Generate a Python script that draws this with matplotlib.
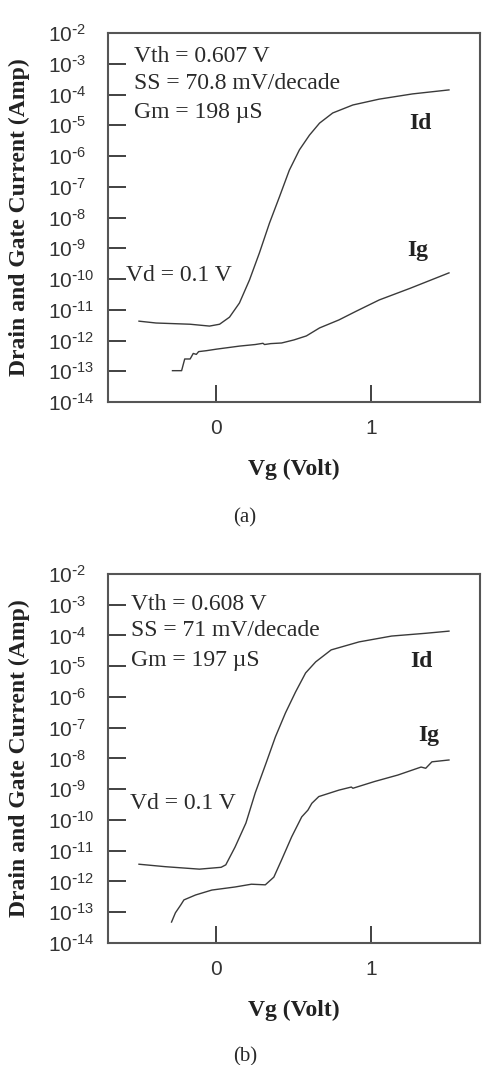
import matplotlib
matplotlib.use("Agg")
import matplotlib.pyplot as plt
import numpy as np
from matplotlib.ticker import LogLocator, FixedLocator, FuncFormatter

plt.rcParams['font.family'] = ['Liberation Serif', 'DejaVu Serif']
plt.rcParams['mathtext.default'] = 'regular'

# ---- panel (a) data: Vg (V), log10 current (A)
vg_id_a = [-0.50, -0.39, -0.17, -0.045, 0.02, 0.084, 0.148, 0.213, 0.277, 0.342, 0.406, 0.47,
           0.535, 0.60, 0.665, 0.75, 0.88, 1.05, 1.265, 1.50]
log_id_a = [-11.37, -11.43, -11.47, -11.53, -11.47, -11.24, -10.78, -10.03, -9.15, -8.18, -7.33, -6.46,
            -5.80, -5.32, -4.93, -4.60, -4.34, -4.15, -3.98, -3.85]
vg_ig_a = [-0.284, -0.225, -0.205, -0.17, -0.15, -0.13, -0.115, -0.065, 0.0, 0.15, 0.25, 0.30,
           0.31, 0.35, 0.42, 0.50, 0.58, 0.665, 0.79, 0.90, 1.05, 1.25, 1.50]
log_ig_a = [-12.98, -12.98, -12.60, -12.60, -12.42, -12.45, -12.36, -12.33, -12.28, -12.18, -12.13, -12.09,
            -12.13, -12.10, -12.08, -11.98, -11.85, -11.59, -11.33, -11.05, -10.68, -10.30, -9.80]

# ---- panel (b) data
vg_id_b = [-0.50, -0.33, -0.11, 0.03, 0.06, 0.12, 0.19, 0.25, 0.32, 0.38, 0.445, 0.51,
           0.575, 0.64, 0.74, 0.92, 1.13, 1.35, 1.50]
log_id_b = [-11.44, -11.52, -11.60, -11.54, -11.46, -10.88, -10.10, -9.12, -8.15, -7.30, -6.52, -5.84,
            -5.22, -4.86, -4.47, -4.21, -4.02, -3.93, -3.86]
vg_ig_b = [-0.29, -0.265, -0.23, -0.21, -0.135, -0.03, 0.12, 0.225, 0.315, 0.37, 0.42, 0.485,
           0.55, 0.59, 0.615, 0.66, 0.79, 0.87, 0.88, 1.02, 1.17, 1.32, 1.35, 1.39, 1.50]
log_ig_b = [-13.32, -13.02, -12.76, -12.60, -12.44, -12.28, -12.18, -12.09, -12.11, -11.86, -11.30, -10.55,
            -9.90, -9.68, -9.46, -9.24, -9.03, -8.93, -8.97, -8.75, -8.54, -8.28, -8.32, -8.11, -8.05]

panels = [
    dict(vg_id=vg_id_a, log_id=log_id_a, vg_ig=vg_ig_a, log_ig=log_ig_a,
         vth="Vth = 0.607 V", ss="SS = 70.8 mV/decade", gm="Gm = 198 \u00b5S",
         rect=[0.2222, 0.6225, 0.7654, 0.3465], tag="(a)", tag_y=0.5136,
         txt_x=-0.53, txt_y=[-2.75, -3.63, -4.60],
         id_pos=(1.245, -4.93), ig_pos=(1.23, -9.06), vd_pos=(-0.587, -9.87)),
    dict(vg_id=vg_id_b, log_id=log_id_b, vg_ig=vg_ig_b, log_ig=log_ig_b,
         vth="Vth = 0.608 V", ss="SS = 71 mV/decade", gm="Gm = 197 \u00b5S",
         rect=[0.2222, 0.1146, 0.7654, 0.3465], tag="(b)", tag_y=0.0075,
         txt_x=-0.55, txt_y=[-2.98, -3.85, -4.83],
         id_pos=(1.25, -4.86), ig_pos=(1.30, -7.24), vd_pos=(-0.56, -9.45)),
]


def exp_label(v, pos):
    e = int(round(np.log10(v)))
    if e < 0:
        return r'$10^{\text{-}%d}$' % (-e)
    return r'$10^{%d}$' % e


fig = plt.figure(figsize=(4.86, 10.65), dpi=100)

for p in panels:
    ax = fig.add_axes(p['rect'])
    ax.semilogy(p['vg_id'], 10.0 ** np.array(p['log_id']), color='#3a3a3a', lw=1.0)
    ax.semilogy(p['vg_ig'], 10.0 ** np.array(p['log_ig']), color='#3a3a3a', lw=1.0)
    ax.set_xlim(-0.7, 1.7)
    ax.set_ylim(1e-14, 1e-2)

    ax.yaxis.set_major_locator(LogLocator(base=10, numticks=20))
    ax.yaxis.set_major_formatter(FuncFormatter(exp_label))
    ax.yaxis.set_minor_locator(FixedLocator([]))
    ax.xaxis.set_major_locator(FixedLocator([0, 1]))
    ax.tick_params(axis='y', direction='in', length=13, width=1.3, pad=43, labelsize=15,
                   labelfontfamily='Liberation Sans', colors='#333333')
    ax.tick_params(axis='x', direction='in', length=12, width=1.3, pad=12, labelsize=15,
                   labelfontfamily='Liberation Sans', colors='#333333')
    for lab in ax.get_yticklabels():
        lab.set_horizontalalignment('left')
    for s in ax.spines.values():
        s.set_linewidth(1.5)
        s.set_color('#555555')

    ax.set_ylabel("Drain and Gate Current (Amp)", fontweight='bold', fontsize=17, color='#222222')
    ax.yaxis.set_label_coords(-0.237, 0.5)
    ax.yaxis.label.set_va('center')
    ax.set_xlabel("Vg (Volt)", fontweight='bold', fontsize=17, color='#222222')
    ax.xaxis.set_label_coords(0.5, -0.182)
    ax.xaxis.label.set_va('center')

    for t, y in zip([p['vth'], p['ss'], p['gm']], p['txt_y']):
        ax.text(p['txt_x'], 10.0 ** y, t, fontsize=17, va='center', ha='left', color='#2a2a2a')
    ax.text(p['id_pos'][0], 10.0 ** p['id_pos'][1], "Id", fontsize=17, fontweight='bold',
            va='center', ha='left', color='#222222')
    ax.text(p['ig_pos'][0], 10.0 ** p['ig_pos'][1], "Ig", fontsize=17, fontweight='bold',
            va='center', ha='left', color='#222222')
    ax.text(p['vd_pos'][0], 10.0 ** p['vd_pos'][1], "Vd = 0.1 V", fontsize=17, va='center', ha='left',
            color='#2a2a2a')

    fig.text(0.504, p['tag_y'], p['tag'], fontsize=15, ha='center', va='center', color='#2a2a2a')

fig.savefig("out.png", dpi=100)
